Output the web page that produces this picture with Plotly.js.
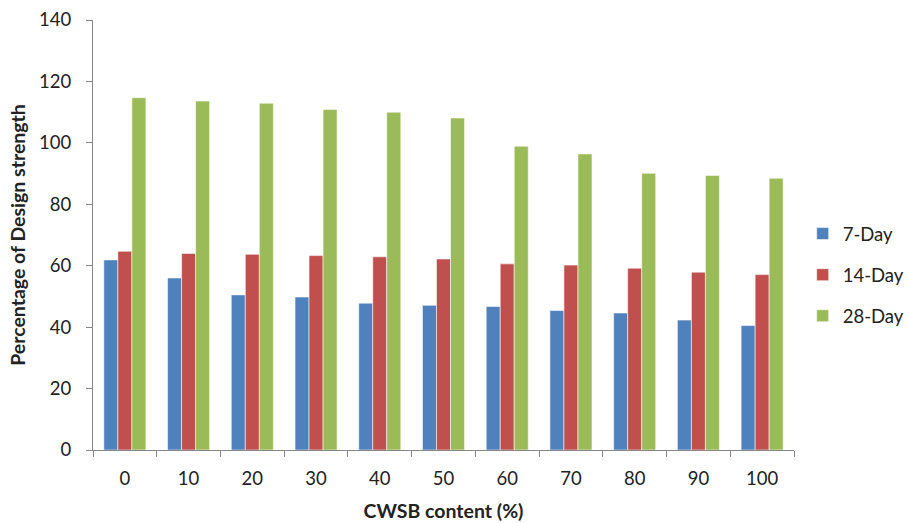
<!DOCTYPE html>
<html>
<head>
<meta charset="utf-8">
<script src="https://cdn.plot.ly/plotly-3.0.1.min.js"></script>
<style>
  html, body { margin: 0; padding: 0; background: #ffffff; }
  #chart { width: 908px; height: 523px; }
</style>
</head>
<body>
<div id="chart"></div>
<script>
// CWSB replacement levels (%) and strength as percentage of design strength
const contents = ['0', '10', '20', '30', '40', '50', '60', '70', '80', '90', '100'];
const day7  = [61.9, 56.0, 50.5, 49.8, 47.8, 47.1, 46.7, 45.4, 44.6, 42.3, 40.5];
const day14 = [64.7, 64.0, 63.7, 63.3, 62.9, 62.2, 60.6, 60.2, 59.2, 57.9, 57.1];
const day28 = [114.7, 113.6, 112.9, 110.9, 110.0, 108.1, 98.9, 96.4, 90.1, 89.4, 88.5];
const seriesNames = ['7-Day', '14-Day', '28-Day'];

const colors = ['#4F81BD', '#C0504D', '#9BBB59'];
const font = 'Lato, "Open Sans", sans-serif';

const traces = [day7, day14, day28].map((vals, i) => ({
  type: 'bar',
  name: seriesNames[i],
  legendgroup: 'g' + i,
  x: contents,
  y: vals,
  marker: { color: colors[i], line: { color: 'rgba(255,255,255,0.55)', width: 1 } },
  hoverinfo: 'x+y+name'
}));

const layout = {
  width: 908,
  height: 523,
  paper_bgcolor: '#ffffff',
  plot_bgcolor: '#ffffff',
  margin: { l: 93, r: 114, t: 20, b: 73, autoexpand: false },
  barmode: 'group',
  bargap: 0.34,
  bargroupgap: 0,
  font: { family: font, size: 18, color: '#222222' },
  xaxis: {
    type: 'category',
    showline: true,
    linecolor: '#868686',
    linewidth: 1,
    ticks: 'outside',
    tickson: 'boundaries',
    ticklen: 6,
    tickcolor: '#868686',
    ticklabelstandoff: 12,
    showgrid: false,
    zeroline: false,
    tickfont: { family: font, size: 18.5, color: '#222222' },
    title: { text: '<b>CWSB content (%)</b>', font: { family: font, size: 19.5, color: '#222222' }, standoff: 16 }
  },
  yaxis: {
    range: [0, 140],
    dtick: 20,
    showline: true,
    linecolor: '#868686',
    linewidth: 1,
    ticks: 'outside',
    ticklen: 6,
    tickcolor: '#868686',
    ticklabelstandoff: 11,
    showgrid: false,
    zeroline: false,
    tickfont: { family: font, size: 18.5, color: '#222222' },
    title: { text: '<b>Percentage of Design strength</b>', font: { family: font, size: 19.5, color: '#222222' }, standoff: 8 }
  },
  legend: {
    xref: 'container',
    yref: 'container',
    x: 0.884,
    y: 0.474,
    xanchor: 'left',
    yanchor: 'middle',
    traceorder: 'grouped',
    tracegroupgap: 14,
    itemwidth: 30,
    font: { family: font, size: 18.5, color: '#222222' },
    bgcolor: 'rgba(0,0,0,0)'
  },
  showlegend: true
};

Plotly.newPlot('chart', traces, layout, { displayModeBar: false, staticPlot: true });
</script>
</body>
</html>
